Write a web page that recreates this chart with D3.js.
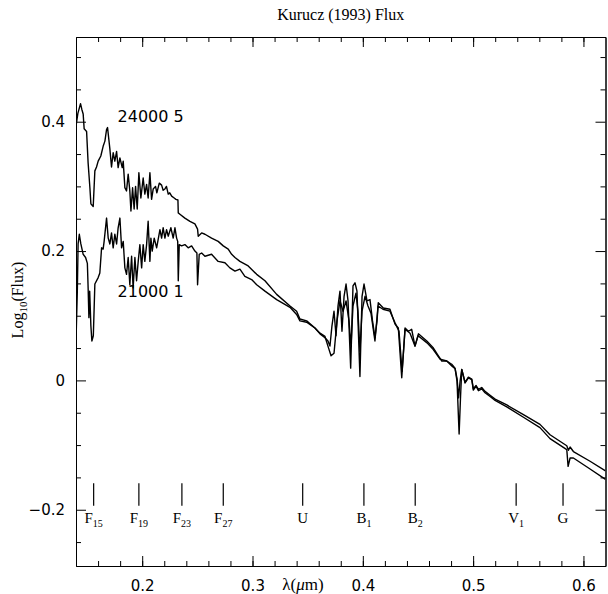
<!DOCTYPE html>
<html>
<head>
<meta charset="utf-8">
<script src="https://cdn.jsdelivr.net/npm/d3@7"></script>
<style>
  body { margin: 0; background: #fff; }
  svg { display: block; }
  .axis path, .axis line { stroke: #000; stroke-width: 1; }
  .axis text { font-family: "DejaVu Sans", sans-serif; font-size: 15px; fill: #000; }
</style>
</head>
<body>
<svg id="chart" width="608" height="594"></svg>
<script>
// Kurucz (1993) model fluxes: wavelength (um) / log10 flux
var wave24 = [0.1400,0.1417,0.1441,0.1453,0.1465,0.1474,0.1496,0.1510,0.1526,0.1535,0.1556,0.1571,0.1586,0.1601,0.1625,0.1646,0.1662,0.1677,0.1686,0.1707,
  0.1722,0.1737,0.1752,0.1768,0.1782,0.1798,0.1819,0.1828,0.1843,0.1858,0.1873,0.1888,0.1898,0.1913,0.1927,0.1940,0.1955,0.1970,0.1988,0.2009,
  0.2024,0.2040,0.2054,0.2070,0.2085,0.2100,0.2121,0.2133,0.2155,0.2176,0.2190,0.2206,0.2220,0.2236,0.2250,0.2267,0.2290,0.2306,0.2324,0.2327,
  0.2342,0.2387,0.2433,0.2478,0.2502,0.2508,0.2539,0.2569,0.2629,0.2689,0.2735,0.2780,0.2811,0.2841,0.2886,0.2961,0.3038,0.3113,0.3219,0.3340,
  0.3400,0.3430,0.3491,0.3566,0.3612,0.3657,0.3684,0.3712,0.3739,0.3766,0.3793,0.3821,0.3848,0.3875,0.3893,0.3911,0.3938,0.3956,0.3974,0.3993,
  0.4020,0.4047,0.4074,0.4110,0.4138,0.4183,0.4246,0.4292,0.4328,0.4356,0.4383,0.4428,0.4473,0.4501,0.4582,0.4637,0.4700,0.4761,0.4809,0.4837,
  0.4855,0.4868,0.4882,0.4897,0.4927,0.4957,0.4988,0.5002,0.5027,0.5048,0.5078,0.5108,0.5154,0.5199,0.5305,0.5456,0.5606,0.5697,0.5849,0.5861,
  0.5879,0.5909,0.6060,0.6200];
var flux24 = [0.393,0.413,0.428,0.419,0.412,0.389,0.385,0.336,0.298,0.273,0.269,0.324,0.330,0.339,0.347,0.362,0.370,0.388,0.391,0.358,
  0.330,0.352,0.339,0.354,0.329,0.344,0.329,0.339,0.298,0.293,0.319,0.293,0.262,0.298,0.265,0.300,0.265,0.321,0.282,0.313,
  0.288,0.303,0.282,0.321,0.280,0.296,0.300,0.290,0.305,0.302,0.294,0.296,0.300,0.288,0.290,0.285,0.282,0.280,0.279,0.259,
  0.257,0.251,0.246,0.242,0.234,0.223,0.228,0.226,0.220,0.215,0.208,0.203,0.195,0.190,0.184,0.177,0.164,0.154,0.133,0.115,
  0.107,0.095,0.092,0.081,0.073,0.068,0.053,0.038,0.042,0.092,0.123,0.107,0.123,0.092,0.053,0.115,0.135,0.107,0.045,0.107,
  0.130,0.115,0.104,0.061,0.115,0.110,0.107,0.089,0.076,0.014,0.079,0.073,0.053,0.069,0.058,0.048,0.033,0.030,0.022,0.018,
  0.002,-0.027,-0.001,0.017,-0.004,0.004,0.001,-0.015,-0.009,-0.016,-0.013,-0.019,-0.025,-0.031,-0.041,-0.057,-0.073,-0.090,-0.107,-0.133,
  -0.120,-0.120,-0.137,-0.153];

var wave21 = [0.1400,0.1412,0.1419,0.1430,0.1444,0.1465,0.1487,0.1503,0.1510,0.1517,0.1524,0.1535,0.1544,0.1557,0.1571,0.1601,0.1616,0.1632,0.1646,0.1655,
  0.1677,0.1692,0.1707,0.1722,0.1737,0.1752,0.1768,0.1782,0.1798,0.1813,0.1828,0.1843,0.1858,0.1873,0.1888,0.1904,0.1918,0.1934,0.1949,0.1964,
  0.1979,0.1995,0.2009,0.2024,0.2040,0.2054,0.2070,0.2079,0.2091,0.2109,0.2131,0.2161,0.2176,0.2190,0.2206,0.2221,0.2236,0.2260,0.2281,0.2297,
  0.2312,0.2322,0.2327,0.2336,0.2357,0.2387,0.2417,0.2448,0.2478,0.2496,0.2502,0.2517,0.2539,0.2569,0.2629,0.2689,0.2750,0.2795,0.2841,0.2886,
  0.2931,0.2992,0.3038,0.3113,0.3219,0.3340,0.3400,0.3430,0.3491,0.3566,0.3612,0.3657,0.3684,0.3702,0.3720,0.3739,0.3757,0.3775,0.3793,0.3811,
  0.3830,0.3848,0.3866,0.3890,0.3911,0.3929,0.3947,0.3974,0.3993,0.4011,0.4038,0.4065,0.4088,0.4110,0.4129,0.4140,0.4186,0.4246,0.4292,0.4322,
  0.4353,0.4383,0.4413,0.4443,0.4473,0.4504,0.4580,0.4640,0.4685,0.4716,0.4761,0.4806,0.4836,0.4854,0.4873,0.4886,0.4897,0.4927,0.4957,0.4988,
  0.5002,0.5027,0.5048,0.5078,0.5108,0.5154,0.5199,0.5305,0.5456,0.5606,0.5697,0.5849,0.5864,0.5879,0.5909,0.6060,0.6200];
var flux21 = [0.061,0.138,0.211,0.226,0.211,0.195,0.190,0.181,0.143,0.097,0.138,0.084,0.061,0.069,0.149,0.159,0.166,0.205,0.203,0.215,
  0.251,0.220,0.211,0.228,0.205,0.226,0.211,0.236,0.251,0.205,0.215,0.174,0.164,0.190,0.148,0.192,0.143,0.190,0.154,0.184,
  0.210,0.174,0.210,0.184,0.210,0.246,0.184,0.220,0.200,0.220,0.205,0.233,0.220,0.236,0.220,0.233,0.223,0.236,0.220,0.236,
  0.220,0.215,0.154,0.210,0.208,0.210,0.205,0.208,0.200,0.197,0.148,0.195,0.197,0.192,0.195,0.184,0.182,0.174,0.169,0.172,
  0.161,0.156,0.148,0.138,0.125,0.113,0.102,0.092,0.090,0.081,0.072,0.066,0.061,0.053,0.084,0.107,0.069,0.115,0.138,0.076,
  0.130,0.149,0.123,0.019,0.146,0.151,0.138,0.006,0.130,0.149,0.123,0.125,0.092,0.066,0.092,0.120,0.112,0.110,0.087,0.081,
  0.004,0.081,0.076,0.079,0.053,0.072,0.061,0.050,0.038,0.030,0.030,0.025,0.019,-0.001,-0.083,-0.025,0.017,-0.003,0.005,0.002,
  -0.013,-0.008,-0.014,-0.011,-0.017,-0.023,-0.029,-0.038,-0.053,-0.068,-0.084,-0.101,-0.108,-0.103,-0.110,-0.125,-0.140];

// filter band markers
var bandWave = [0.156, 0.197, 0.236, 0.2735, 0.3455, 0.401, 0.4475, 0.539, 0.5815];
var bandName = ["F", "F", "F", "F", "U", "B", "B", "V", "G"];
var bandSub  = ["15", "19", "23", "27", "", "1", "2", "1", ""];

// tick values
var xMajor = [0.2, 0.3, 0.4, 0.5, 0.6];
var xMinor = d3.range(0.16, 0.619, 0.02);
var yMajor = [-0.2, 0, 0.2, 0.4];
var yMinor = [-0.25, -0.15, -0.1, -0.05, 0.05, 0.1, 0.15, 0.25, 0.3, 0.35, 0.45, 0.5];

var L = 76, R = 605.5, T = 37, B = 566;

var svg = d3.select("#chart");
var x = d3.scaleLinear().domain([0.14, 0.62]).range([L, R]);
var y = d3.scaleLinear().domain([-0.287, 0.531]).range([B, T]);

svg.append("defs").append("clipPath").attr("id", "plotclip")
  .append("rect").attr("x", L).attr("y", T).attr("width", R - L).attr("height", B - T);

// spectra
var line = d3.line().x(function(d) { return x(d[0]); }).y(function(d) { return y(d[1]); });
var spectra = [d3.zip(wave24, flux24), d3.zip(wave21, flux21)];
svg.append("g").attr("clip-path", "url(#plotclip)")
  .selectAll("path").data(spectra).join("path")
    .attr("d", line)
    .attr("fill", "none")
    .attr("stroke", "#000")
    .attr("stroke-width", 1.4)
    .attr("stroke-linejoin", "round");

// axes, ticks pointing inward on all four sides
var fmt = function(d) { return d === 0 ? "0" : d3.format(".1f")(d); };
function addAxis(axis, tx, ty) {
  var g = svg.append("g").attr("class", "axis").attr("transform", "translate(" + tx + "," + ty + ")").call(axis);
  return g;
}
addAxis(d3.axisBottom(x).tickValues(xMajor).tickSize(-10).tickSizeOuter(0).tickPadding(14).tickFormat(d3.format(".1f")), 0, B);
addAxis(d3.axisBottom(x).tickValues(xMinor).tickSize(-5).tickSizeOuter(0).tickFormat(""), 0, B);
addAxis(d3.axisTop(x).tickValues(xMajor).tickSize(-10).tickSizeOuter(0).tickFormat(""), 0, T);
addAxis(d3.axisTop(x).tickValues(xMinor).tickSize(-5).tickSizeOuter(0).tickFormat(""), 0, T);
addAxis(d3.axisLeft(y).tickValues(yMajor).tickSize(-10).tickSizeOuter(0).tickPadding(11).tickFormat(fmt), L, 0);
addAxis(d3.axisLeft(y).tickValues(yMinor).tickSize(-5).tickSizeOuter(0).tickFormat(""), L, 0);
addAxis(d3.axisRight(y).tickValues(yMajor).tickSize(-10).tickSizeOuter(0).tickFormat(""), R, 0);
addAxis(d3.axisRight(y).tickValues(yMinor).tickSize(-5).tickSizeOuter(0).tickFormat(""), R, 0);
svg.selectAll(".axis .domain").attr("stroke-width", 1.2);

// band markers
var bands = svg.append("g").selectAll("g").data(bandWave).join("g")
  .attr("transform", function(d) { return "translate(" + x(d) + ",0)"; });
bands.append("line")
  .attr("y1", y(-0.159)).attr("y2", y(-0.194))
  .attr("stroke", "#000").attr("stroke-width", 1.2);
var bt = bands.append("text")
  .attr("y", y(-0.221))
  .attr("text-anchor", "middle")
  .style("font-family", "'Liberation Serif', serif")
  .style("font-size", "15px");
bt.append("tspan").text(function(d, i) { return bandName[i]; });
bt.append("tspan").attr("dy", 4).style("font-size", "10px").text(function(d, i) { return bandSub[i]; });

// model labels
var serif = "'Liberation Serif', serif";
svg.append("text").attr("x", x(0.1777)).attr("y", y(0.399))
  .style("font-family", "'DejaVu Sans', sans-serif").style("font-size", "16px").text("24000 5");
svg.append("text").attr("x", x(0.1777)).attr("y", y(0.129))
  .style("font-family", "'DejaVu Sans', sans-serif").style("font-size", "16px").text("21000 1");

// title
svg.append("text").attr("x", (L + R) / 2).attr("y", 20)
  .attr("text-anchor", "middle")
  .style("font-family", serif).style("font-size", "16px")
  .text("Kurucz (1993) Flux");

// y label
var yl = svg.append("text")
  .attr("transform", "translate(23,300) rotate(-90)")
  .attr("text-anchor", "middle")
  .style("font-family", serif).style("font-size", "16px");
yl.append("tspan").text("Log");
yl.append("tspan").attr("dy", 4).style("font-size", "11px").text("10");
yl.append("tspan").attr("dy", -4).text("(Flux)");

// x label
var xl = svg.append("text")
  .attr("x", 303).attr("y", 590)
  .attr("text-anchor", "middle")
  .style("font-family", serif).style("font-size", "17px");
xl.append("tspan").text("λ(");
xl.append("tspan").style("font-style", "italic").text("μ");
xl.append("tspan").text("m)");
</script>
</body>
</html>
